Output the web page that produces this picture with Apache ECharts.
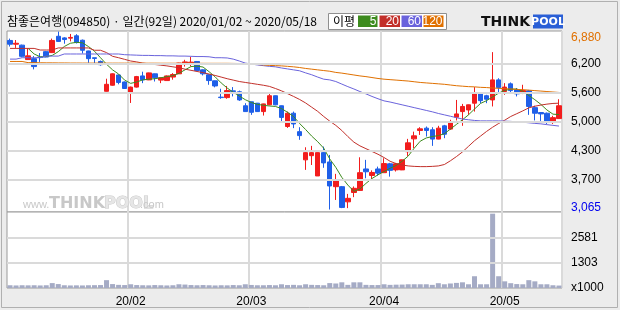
<!DOCTYPE html>
<html><head><meta charset="utf-8">
<script src="https://cdn.jsdelivr.net/npm/echarts@6/dist/echarts.min.js"></script>
<style>html,body{margin:0;padding:0;background:#ececec}#c{width:620px;height:310px}</style>
</head><body><div id="c"></div>
<script>
const dates = [
'20/01/02','20/01/03','20/01/06','20/01/07','20/01/08','20/01/09','20/01/10','20/01/13','20/01/14','20/01/15',
'20/01/16','20/01/17','20/01/20','20/01/21','20/01/22','20/01/23','20/01/28','20/01/29','20/01/30','20/01/31',
'20/02/03','20/02/04','20/02/05','20/02/06','20/02/07','20/02/10','20/02/11','20/02/12','20/02/13','20/02/14',
'20/02/17','20/02/18','20/02/19','20/02/20','20/02/21','20/02/24','20/02/25','20/02/26','20/02/27','20/02/28',
'20/03/02','20/03/03','20/03/04','20/03/05','20/03/06','20/03/09','20/03/10','20/03/11','20/03/12','20/03/13',
'20/03/16','20/03/17','20/03/18','20/03/19','20/03/20','20/03/23','20/03/24','20/03/25','20/03/26','20/03/27',
'20/03/30','20/03/31','20/04/01','20/04/02','20/04/03','20/04/06','20/04/07','20/04/08','20/04/09','20/04/10',
'20/04/13','20/04/14','20/04/16','20/04/17','20/04/20','20/04/21','20/04/22','20/04/23','20/04/24','20/04/27',
'20/04/28','20/04/29','20/05/04','20/05/06','20/05/07','20/05/08','20/05/11','20/05/12','20/05/13','20/05/14',
'20/05/15','20/05/18'];

const open = [6690,6610,6590,6280,6300,6335,6450,6430,6780,6745,6740,6790,6695,6465,6320,6240,5600,5730,5950,5800,
5575,5690,5930,5845,5975,5840,5830,5905,5975,6205,6205,6240,6060,5955,5825,5475,5465,5610,5590,5290,
5375,5345,5165,5310,5505,5290,4845,5130,4735,4130,4220,3785,4285,4085,3555,3555,3230,3430,3475,3935,
3795,3935,3855,4045,3915,3915,4305,4580,4760,4810,4775,4575,4860,4790,5045,5165,5200,5345,5545,5505,
5415,5845,5595,5760,5630,5575,5610,5250,5145,5130,4930,5015];
const close = [6610,6630,6350,6360,6130,6325,6335,6690,6670,6710,6755,6645,6480,6300,6305,6170,5750,5975,5790,5660,
5690,5915,5845,5995,5890,5890,5930,5960,6205,6230,6225,6045,5975,5830,5715,5465,5615,5595,5415,5165,
5150,5165,5330,5505,5310,5040,5130,4900,4650,4285,4285,4285,4065,3570,3700,3110,3305,3520,3855,3875,
3860,3845,4050,3905,4045,4130,4495,4645,4795,4760,4575,4810,4680,4930,5115,5275,5310,5545,5400,5430,
5845,5680,5690,5615,5545,5615,5275,5130,5115,4930,5035,5290];
const low = [6560,6530,6330,6280,6070,6230,6330,6420,6660,6620,6670,6625,6410,6210,6205,6150,5595,5720,5750,5650,
5350,5680,5775,5840,5810,5775,5830,5850,5970,6130,6135,6040,5940,5740,5685,5440,5440,5490,5395,5160,
5095,5160,5080,5300,5300,4950,4815,4810,4560,3915,4020,3785,3960,3065,3270,3095,3095,3330,3470,3735,
3700,3790,3855,3770,3880,3910,4215,4380,4665,4630,4430,4570,4595,4775,4975,4860,5095,5165,5345,5345,
5275,5560,5525,5560,5490,5540,5095,4975,4965,4900,4900,5015];
const high = [6730,6700,6600,6520,6355,6420,6460,6730,6880,6760,6830,6825,6710,6470,6320,6260,5870,5985,5960,5810,
5700,5930,6020,6000,5980,5895,5940,5990,6210,6275,6335,6250,6070,5960,5830,5655,5715,5690,5615,5345,
5380,5350,5335,5555,5510,5295,5165,5165,4830,4400,4430,4290,4415,4235,3830,3570,3400,3560,4185,4130,
3905,3985,4165,4065,4065,4135,4580,4735,4830,4845,4830,4860,4880,4990,5415,5330,5315,5690,5565,5525,
6440,5880,5775,5790,5670,5740,5630,5290,5150,5145,5075,5430];

const volume = [140,130,140,135,140,130,140,250,200,140,130,135,130,140,145,150,400,200,160,150,
190,150,140,135,150,140,130,140,190,175,150,140,150,140,130,140,135,150,140,190,
155,140,140,150,140,190,150,160,140,190,160,150,140,250,230,290,160,290,290,160,
150,150,190,160,170,175,190,190,190,190,160,245,190,230,260,290,190,600,190,190,
3790,600,340,245,200,190,400,340,190,190,140,125];

const ma5 = [null,null,null,6520,6400,6340,6345,6370,6450,6560,6630,6650,6640,6560,6460,6320,6180,6060,5970,5840,
5770,5800,5845,5860,5870,5890,5915,5935,5985,6060,6130,6140,6120,6020,5910,5780,5670,5580,5500,5420,
5360,5320,5300,5285,5275,5230,5150,5060,4910,4780,4640,4520,4380,4150,3970,3755,3590,3455,3505,3625,
3730,3810,3880,3950,4010,4100,4210,4380,4530,4600,4630,4650,4690,4790,4890,4990,5095,5220,5340,5400,
5480,5560,5620,5645,5650,5600,5510,5420,5320,5200,5110,5100];
const ma20 = [6520,6520,6520,6520,6520,6485,6485,6485,6530,6530,6530,6530,6530,6530,6480,6480,6430,6350,6320,6285,
6250,6230,6205,6190,6175,6160,6145,6125,6105,6075,6050,6025,6000,5970,5940,5905,5870,5840,5810,5790,
5770,5750,5730,5705,5660,5610,5550,5490,5425,5350,5260,5170,5060,4960,4870,4760,4630,4510,4430,4370,
4310,4250,4180,4100,4050,4020,4000,3990,3985,3985,3990,4000,4030,4110,4200,4300,4420,4540,4640,4740,
4830,4910,4980,5060,5120,5180,5245,5280,5305,5325,5340,5345];
const ma60 = [6290,6290,6320,6320,6320,6320,6355,6355,6355,6400,6400,6400,6400,6400,6400,6400,6400,6400,6400,6385,
6380,6375,6370,6370,6365,6365,6360,6360,6355,6355,6350,6345,6345,6340,6320,6320,6315,6290,6250,6205,
6185,6165,6150,6135,6125,6100,6080,6060,6040,5995,5955,5905,5860,5845,5810,5755,5700,5650,5595,5545,
5490,5440,5395,5370,5340,5310,5280,5250,5220,5190,5160,5125,5095,5065,5035,5005,4990,4975,4966,4966,
4966,4966,4960,4955,4945,4938,4925,4912,4902,4885,4870,4855];
const ma120 = [6240,6240,6240,6215,6215,6212,6210,6210,6208,6208,6206,6206,6205,6205,6205,6205,6204,6204,6204,6204,
6204,6203,6203,6203,6203,6202,6202,6202,6202,6201,6201,6201,6200,6200,6200,6200,6200,6198,6196,6193,
6185,6175,6165,6155,6150,6145,6135,6125,6110,6090,6075,6060,6045,6030,6005,5990,5970,5950,5930,5915,
5895,5875,5860,5850,5840,5830,5820,5805,5790,5780,5770,5760,5750,5735,5720,5710,5700,5695,5685,5680,
5670,5665,5655,5650,5640,5635,5625,5615,5605,5595,5585,5575];

const priceTicks = [3065, 3700, 4325, 4950, 5575, 6200, 6880];
const priceTickLabels = ['3,065', '3,700', '4,300', '5,000', '5,600', '6,200', '6,880'];
const priceGridValues = [3700, 4325, 4950, 5575, 6200];
const volTicks = [0, 1303, 2581];
const volTickLabels = ['x1000', '1303', '2581'];
const volGridValues = [1303, 2581];
const titleText = '참좋은여행(094850) · 일간(92일) 2020/01/02 ~ 2020/05/18';
const maNames = ['5', '20', '60', '120'];
const maColors = ['#3d8b1e', '#c2302a', '#6a63dc', '#e07000'];

const monthStart = dates.map((d, i) => i > 0 && d.slice(3, 5) !== dates[i - 1].slice(3, 5));
const candleData = open.map((o, i) => [o, close[i], low[i], high[i]]);
const gridColor = '#dadada';

const chart = echarts.init(document.getElementById('c'), null, {renderer: 'canvas'});
const maLines = [ma5, ma20, ma60, ma120].map((d, k) => ({
  type: 'line', name: 'MA' + maNames[k], xAxisIndex: 0, yAxisIndex: 0, data: d,
  symbol: 'none', showSymbol: false, silent: true, z: 3,
  lineStyle: {width: 1, color: maColors[k]}
}));

const legendGraphics = [];
const boxX = [358, 379.5, 401.5, 423.5];
const boxW = [19.5, 20.5, 20.5, 20];
maNames.forEach((n, k) => {
  legendGraphics.push({type: 'rect', shape: {x: boxX[k], y: 15.5, width: boxW[k], height: 11.5}, style: {fill: maColors[k]}});
  legendGraphics.push({type: 'text', x: boxX[k] + boxW[k] - 1, y: 21.5, style: {text: n, fill: '#fff', font: '12px "Liberation Sans"', align: 'right', verticalAlign: 'middle'}});
});

chart.setOption({
  animation: false,
  backgroundColor: '#ececec',
  grid: [
    {left: 7, top: 31, width: 555, height: 181, show: true, backgroundColor: '#fff', borderColor: '#9a9a9a', borderWidth: 1},
    {left: 7, top: 212, width: 555, height: 76, show: true, backgroundColor: '#fff', borderColor: '#9a9a9a', borderWidth: 1}
  ],
  xAxis: [
    {type: 'category', gridIndex: 0, data: dates, boundaryGap: true,
     axisLine: {show: false}, axisTick: {show: false}, axisLabel: {show: false},
     splitLine: {show: true, interval: (i) => monthStart[i], lineStyle: {color: gridColor, width: 2}}},
    {type: 'category', gridIndex: 1, data: dates, boundaryGap: true,
     axisLine: {show: false}, axisTick: {show: false},
     axisLabel: {show: true, interval: (i) => monthStart[i], formatter: (v) => v.slice(0, 5),
       color: '#000', fontSize: 12, fontFamily: 'Liberation Sans', margin: 8},
     splitLine: {show: true, interval: (i) => monthStart[i], lineStyle: {color: gridColor, width: 2}}}
  ],
  yAxis: [
    {type: 'value', gridIndex: 0, position: 'right', min: 3012, max: 6893, scale: true,
     splitLine: {show: false}, axisLine: {show: false}, axisTick: {show: false},
     axisLabel: {customValues: priceTicks, margin: 9, fontSize: 12, fontFamily: 'Liberation Sans', color: '#000',
       formatter: (v) => {
         const i = priceTicks.indexOf(v);
         const t = i >= 0 ? priceTickLabels[i] : '';
         if (v === 6880) return '{o|' + t + '}';
         if (v === 3065) return '{b|' + t + '}';
         return t;
       },
       rich: {
         o: {color: '#e07000', fontSize: 12, fontFamily: 'Liberation Sans', padding: [13, 0, 0, 0]},
         b: {color: '#0000ee', fontSize: 12, fontFamily: 'Liberation Sans', padding: [0, 0, 4, 0]}
       }}},
    {type: 'value', gridIndex: 1, position: 'right', min: 0, max: 3875,
     splitLine: {show: false}, axisLine: {show: false}, axisTick: {show: false},
     axisLabel: {customValues: volTicks, margin: 9, fontSize: 12, fontFamily: 'Liberation Sans', color: '#000',
       formatter: (v) => { const i = volTicks.indexOf(v); return i >= 0 ? volTickLabels[i] : ''; },
       rich: {}}}
  ],
  graphic: [
    {type: 'rect', shape: {x: 1.5, y: 1.5, width: 616, height: 306}, style: {fill: null, stroke: '#b0b0b0', lineWidth: 1}, silent: true},
    {type: 'text', x: 7, y: 21.5, style: {text: titleText, fill: '#000', font: '12px "Noto Sans CJK KR"', verticalAlign: 'middle'}},
    {type: 'rect', shape: {x: 328.5, y: 13.5, width: 118, height: 16}, style: {fill: '#fff', stroke: '#8f8f8f', lineWidth: 1}},
    {type: 'text', x: 333, y: 21.5, style: {text: '이평', fill: '#000', font: '12px "Noto Sans CJK KR"', verticalAlign: 'middle'}},
    ...legendGraphics,
    {type: 'text', x: 481, y: 22, style: {text: 'THINK', fill: '#111', font: 'bold 14px "DejaVu Sans"', verticalAlign: 'middle'}},
    {type: 'rect', shape: {x: 533, y: 14.5, width: 30, height: 14}, style: {fill: '#2a5fd6'}},
    {type: 'text', x: 548, y: 22, style: {text: 'POOL', fill: '#fff', font: 'bold 11px "DejaVu Sans"', align: 'center', verticalAlign: 'middle'}},
    {type: 'text', x: 23, y: 205, z: 1, style: {text: 'www.', fill: '#c8c8c8', font: '11px "Liberation Sans"', verticalAlign: 'middle'}},
    {type: 'text', x: 49, y: 204, z: 1, style: {text: 'THINK', fill: '#c8c8c8', font: 'bold 16px "DejaVu Sans"', verticalAlign: 'middle'}},
    {type: 'text', x: 104, y: 204, z: 1, style: {text: 'POOL', fill: '#e6e6e6', stroke: '#c8c8c8', lineWidth: 1, font: 'bold 16px "DejaVu Sans"', verticalAlign: 'middle'}},
    {type: 'text', x: 140, y: 205, z: 1, style: {text: '.com', fill: '#c8c8c8', font: '11px "Liberation Sans"', verticalAlign: 'middle'}}
  ],
  series: [
    {type: 'line', name: 'pgrid', xAxisIndex: 0, yAxisIndex: 0, data: dates.map(() => null), z: 1, silent: true,
     markLine: {silent: true, symbol: ['none', 'none'], label: {show: false}, animation: false,
       lineStyle: {color: gridColor, width: 2, type: 'solid'}, data: priceGridValues.map(v => ({yAxis: v}))}},
    {type: 'line', name: 'vgrid', xAxisIndex: 1, yAxisIndex: 1, data: dates.map(() => null), z: 1, silent: true,
     markLine: {silent: true, symbol: ['none', 'none'], label: {show: false}, animation: false,
       lineStyle: {color: gridColor, width: 2, type: 'solid'}, data: volGridValues.map(v => ({yAxis: v}))}},
    {type: 'candlestick', name: 'price', xAxisIndex: 0, yAxisIndex: 0, data: candleData, barWidth: 5, z: 2,
     itemStyle: {color: '#f21d1d', color0: '#1f5fe8', borderColor: '#f21d1d', borderColor0: '#1f5fe8', borderWidth: 1}},
    ...maLines,
    {type: 'bar', name: 'volume', xAxisIndex: 1, yAxisIndex: 1, data: volume, barWidth: 5, z: 2,
     itemStyle: {color: '#a5abc5'}}
  ]
});
</script>
</body></html>
